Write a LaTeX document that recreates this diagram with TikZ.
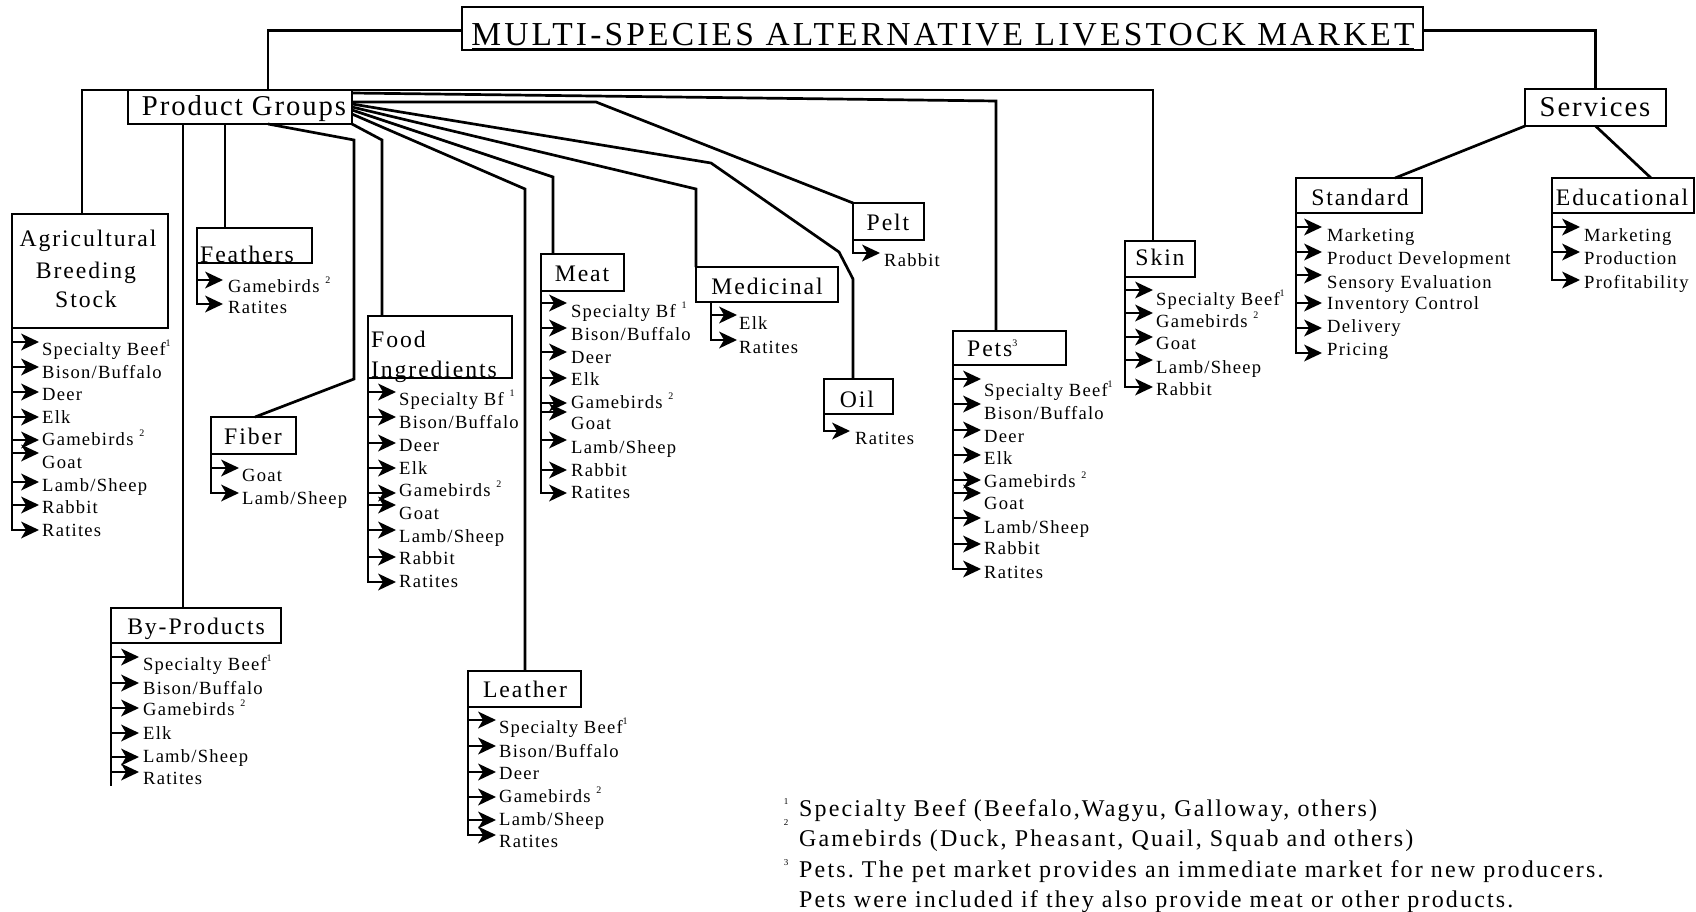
\documentclass[tikz,border=0pt]{standalone}
\usepackage{fontspec}
\setmainfont{Liberation Serif}
\newfontfamily\fitem[LetterSpace=6.5]{Liberation Serif}
\newfontfamily\flbl[LetterSpace=8]{Liberation Serif}
\newfontfamily\fpg[LetterSpace=6.7]{Liberation Serif}
\newfontfamily\ftitle[LetterSpace=9.5]{Liberation Serif}
\newfontfamily\fnote[LetterSpace=9]{Liberation Serif}
\usetikzlibrary{arrows.meta}
\frenchspacing
\newcommand\supn[1]{\raisebox{0.45em}{\fontsize{10}{10}\selectfont #1}}
\newcommand\itemlist[5]{%
  \foreach \ay/\ty/\itxt [count=\k] in {#5} {
    \draw[ln] (#2,\ay) -- ({#3-11},\ay);
    \fill[head] (#3,\ay) -- ({#3-18},{\ay-8.5}) -- ({#3-13},\ay) -- ({#3-18},{\ay+8.5}) -- cycle;
    \node[itm] (#1-\k) at (#4,\ty) {\itxt};
  }%
}
\begin{document}
\begin{tikzpicture}[x=1pt,y=-1pt,
  ln/.style={line width=2.7pt},
  vln/.style={line width=2.7pt, line cap=rect},
  head/.style={fill=black, line join=miter},
  box/.style={draw, line width=2.7pt, inner sep=0pt, outer sep=0pt, anchor=north west},
  itm/.style={anchor=base west, inner sep=0pt, font=\fitem\fontsize{18.6}{22}\selectfont},
  lbl/.style={anchor=base, inner sep=0pt, font=\flbl\fontsize{23.7}{31}\selectfont},
  lblw/.style={anchor=base west, inner sep=0pt, font=\flbl\fontsize{23.7}{31}\selectfont},
  big/.style={anchor=base, inner sep=0pt, font=\fpg\fontsize{28.7}{34}\selectfont},
  ttl/.style={anchor=base, inner sep=0pt, font=\ftitle\fontsize{33.5}{40}\selectfont},
  note/.style={anchor=base west, inner sep=0pt, font=\fnote\fontsize{24}{30}\selectfont},
  nsup/.style={inner sep=0pt, font=\fnote\fontsize{9}{9}\selectfont}]

\fill[white] (0,0) rectangle (1696,912);
\useasboundingbox (0,0) rectangle (1696,912);

% ---------- boxes ----------
\node[box, minimum width=961pt, minimum height=43pt] (title) at (462,7) {};
\node[box, minimum width=224pt, minimum height=34pt] (pg) at (128,90) {};
\node[box, minimum width=141pt, minimum height=37pt] (sv) at (1525,89) {};
\node[box, minimum width=156pt, minimum height=114pt] (ag) at (12,214) {};
\node[box, minimum width=115pt, minimum height=35pt] (fe) at (197,228) {};
\node[box, minimum width=85pt, minimum height=37pt] (fi) at (211,417) {};
\node[box, minimum width=144pt, minimum height=62pt] (fo) at (368,316) {};
\node[box, minimum width=83pt, minimum height=37pt] (me) at (541,254) {};
\node[box, minimum width=142pt, minimum height=35pt] (md) at (696,267) {};
\node[box, minimum width=71pt, minimum height=37pt] (pe) at (853,203) {};
\node[box, minimum width=69pt, minimum height=35pt] (oi) at (824,379) {};
\node[box, minimum width=113pt, minimum height=34pt] (pt) at (953,331) {};
\node[box, minimum width=70pt, minimum height=36pt] (sk) at (1125,241) {};
\node[box, minimum width=126pt, minimum height=35pt] (st) at (1296,178) {};
\node[box, minimum width=142pt, minimum height=35pt] (ed) at (1552,178) {};
\node[box, minimum width=170pt, minimum height=35pt] (bp) at (111,608) {};
\node[box, minimum width=113pt, minimum height=36pt] (le) at (468,671) {};

% ---------- box labels ----------
\node[ttl] (titleT) at (943,46) {MULTI-SPECIES ALTERNATIVE LIVESTOCK MARKET};
\draw[line width=1.4pt] (472,48.5) -- (1414,48.5);
\node[big] (pgT) at (244,116) {Product Groups};
\node[big] (svT) at (1595,117) {Services};
\node[lbl] (agT1) at (88,246) {Agricultural};
\node[lbl] (agT2) at (86,278) {Breeding};
\node[lbl] (agT3) at (86,307) {Stock};
\node[lblw] (feT) at (200,262) {Feathers};
\node[lbl] (fiT) at (253,444) {Fiber};
\node[lblw] (foT1) at (371,347) {Food};
\node[lblw] (foT2) at (371,377) {Ingredients};
\node[lbl] (meT) at (582,281) {Meat};
\node[lbl] (mdT) at (767,294) {Medicinal};
\node[lbl] (peT) at (888,230) {Pelt};
\node[lbl] (oiT) at (857,407) {Oil};
\node[lblw] (ptT) at (967,356) {Pets\raisebox{0.4em}{\fontsize{10}{10}\selectfont 3}};
\node[lbl] (skT) at (1160,265) {Skin};
\node[lbl] (stT) at (1360,205) {Standard};
\node[lbl] (edT) at (1622,205) {Educational};
\node[lbl] (bpT) at (196,634) {By-Products};
\node[lbl] (leT) at (525,697) {Leather};

% ---------- connectors ----------
\draw[ln] ([yshift=-2pt]title.west) -| ([xshift=140pt]pg.north west);
\draw[ln] ([yshift=-2pt]title.east) -| (sv.north);
\draw[ln] (sv.south west) -- ([xshift=99pt]st.north west);
\draw[ln] (sv.south) -- ([xshift=99pt]ed.north west);
\draw[ln] (pg.north west) -| ([xshift=70pt]ag.north west);
\draw[ln] (pg.north east) -| ([xshift=28pt]sk.north west);
\draw[ln] ([yshift=-3pt]pg.north east) -- (996,101) -- ([xshift=43pt]pt.north west);
\draw[ln] ([yshift=-12pt]pg.north east) -- (596,102) -- (pe.north west);
\draw[ln, line join=round] ([yshift=-14pt]pg.north east) -- (711,163) -- (839,252) -- (853,279) -- ([xshift=29pt]oi.north west);
\draw[ln] ([yshift=-17pt]pg.north east) -- (696,189) -- (md.north west);
\draw[ln] ([yshift=-20pt]pg.north east) -- (553,177) -- ([xshift=12pt]me.north west);
\draw[ln] ([yshift=-24pt]pg.north east) -- (525,189) -- ([xshift=57pt]le.north west);
\draw[ln] (pg.south east) -- (382,140) -- ([xshift=14pt]fo.north west);
\draw[ln] ([xshift=140pt]pg.south west) -- (354,140) -- (354,379) -- ([xshift=44pt]fi.north west);
\draw[ln] ([xshift=97pt]pg.south west) -- ([xshift=28pt]fe.north west);
\draw[ln] ([xshift=55pt]pg.south west) -- ([xshift=72pt]bp.north west);

% ---------- item lists ----------
\draw[vln] (ag.south west) -- (12,530);
\itemlist{ag}{12}{39}{42}{342/355/{Specialty Beef\supn{1}}, 367/378/{Bison/Buffalo}, 392/400/Deer, 417/423/Elk, 440/445/{Gamebirds \supn{2}}, 453/468/Goat, 482/491/{Lamb/Sheep}, 505/513/Rabbit, 530/536/Ratites}

\draw[vln] (fe.south west) -- (197,304);
\itemlist{fe}{197}{223}{228}{280/292/{Gamebirds \supn{2}}, 304/313/Ratites}

\draw[vln] (fi.south west) -- (211,493);
\itemlist{fi}{211}{239}{242}{468/481/Goat, 493/504/{Lamb/Sheep}}

\draw[vln] (fo.south west) -- (368,582);
\itemlist{fo}{368}{396}{399}{392/405/{Specialty Bf \supn{1}}, 417/428/{Bison/Buffalo}, 443/451/Deer, 468/474/Elk, 493/496/{Gamebirds \supn{2}}, 505/519/Goat, 530/542/{Lamb/Sheep}, 557/564/Rabbit, 582/587/Ratites}

\draw[vln] (me.south west) -- (541,493);
\itemlist{me}{541}{567}{571}{303/317/{Specialty Bf \supn{1}}, 328/340/{Bison/Buffalo}, 352/363/Deer, 378/385/Elk, 403/408/{Gamebirds \supn{2}}, 412/429/Goat, 440/453/{Lamb/Sheep}, 470/476/Rabbit, 493/498/Ratites}

\draw[vln] ([xshift=15pt]md.south west) -- (711,340);
\itemlist{md}{711}{737}{739}{315/329/Elk, 340/353/Ratites}

\draw[vln] (pe.south west) -- (853,253);
\itemlist{pe}{853}{880}{884}{253/266/Rabbit}

\draw[vln] (oi.south west) -- (824,431);
\itemlist{oi}{824}{850}{855}{431/444/Ratites}

\draw[vln] (pt.south west) -- (953,569);
\itemlist{pt}{953}{981}{984}{379/396/{Specialty Beef\supn{1}}, 404/419/{Bison/Buffalo}, 430/442/Deer, 455/464/Elk, 480/487/{Gamebirds \supn{2}}, 493/509/Goat, 518/533/{Lamb/Sheep}, 544/554/Rabbit, 569/578/Ratites}

\draw[vln] (sk.south west) -- (1125,387);
\itemlist{sk}{1125}{1153}{1156}{290/305/{Specialty Beef\supn{1}}, 313/327/{Gamebirds \supn{2}}, 337/349/Goat, 360/373/{Lamb/Sheep}, 387/395/Rabbit}

\draw[vln] (st.south west) -- (1296,353);
\itemlist{st}{1296}{1322}{1327}{227/241/Marketing, 252/264/{Product Development}, 275/288/{Sensory Evaluation}, 303/309/{Inventory Control}, 328/332/Delivery, 353/355/Pricing}

\draw[vln] (ed.south west) -- (1552,280);
\itemlist{ed}{1552}{1580}{1584}{227/241/Marketing, 252/264/Production, 280/288/Profitability}

\draw[vln] (bp.south west) -- (111,785);
\itemlist{bp}{111}{139}{143}{657/670/{Specialty Beef\supn{1}}, 683/694/{Bison/Buffalo}, 708/715/{Gamebirds \supn{2}}, 733/739/Elk, 757/762/{Lamb/Sheep}, 772/784/Ratites}

\draw[vln] (le.south west) -- (468,835);
\itemlist{le}{468}{496}{499}{720/733/{Specialty Beef\supn{1}}, 746/757/{Bison/Buffalo}, 772/779/Deer, 797/802/{Gamebirds \supn{2}}, 820/825/{Lamb/Sheep}, 835/847/Ratites}

% ---------- footnotes ----------
\node[nsup] (s1) at (786,802) {1};
\node[nsup] (s2) at (786,823) {2};
\node[nsup] (s3) at (786,863) {3};
\node[note] (fn1) at (799,816) {Specialty Beef (Beefalo,Wagyu, Galloway, others)};
\node[note] (fn2) at (799,846) {Gamebirds (Duck, Pheasant, Quail, Squab and others)};
\node[note] (fn3) at (799,877) {Pets. The pet market provides an immediate market for new producers.};
\node[note] (fn4) at (799,907) {Pets were included if they also provide meat or other products.};
\end{tikzpicture}
\end{document}
